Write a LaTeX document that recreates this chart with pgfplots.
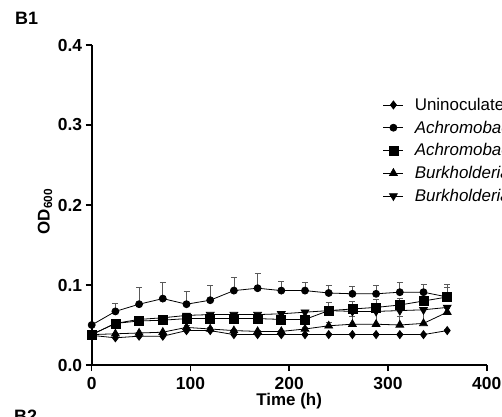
\documentclass[border=0pt]{standalone}
\usepackage{pgfplots}
\pgfplotsset{compat=1.18}
\usepackage{fontspec}
\setmainfont{Liberation Sans}

\pgfplotsset{
  odline/.style={black, line width=0.8pt, mark options={solid, fill=black},
    error bars/y dir=plus, error bars/y explicit,
    error bars/error bar style={black!65, line width=0.8pt},
    error bars/error mark options={black!65, line width=0.8pt, mark size=3bp, rotate=90}},
}

\begin{document}
\begin{tikzpicture}
\useasboundingbox (0,0) rectangle (502bp,417bp);
\clip (0,0) rectangle (502bp,417bp);
\node[anchor=north west, inner sep=0pt, font=\bfseries\fontsize{18}{20}\selectfont] at (15bp,405bp) {B1};
\node[anchor=north west, inner sep=0pt, font=\bfseries\fontsize{18}{20}\selectfont] at (14bp,7bp) {B2};
\begin{axis}[
  at={(91.7bp,52bp)}, anchor=south west,
  scale only axis, width=395bp, height=320bp,
  xmin=0, xmax=400, ymin=0, ymax=0.4,
  axis lines=left, axis line style={-, line width=2.2pt},
  tick align=outside, major tick length=6bp,
  tick style={black, line width=1.6pt},
  xtick={0,100,200,300,400}, xticklabels={0,100,200,300,400},
  ytick={0,0.1,0.2,0.3,0.4}, yticklabels={0.0,0.1,0.2,0.3,0.4},
  ticklabel style={font=\bfseries\fontsize{17.5}{17.5}\selectfont},
  xticklabel style={yshift=-3bp},
  xlabel={Time (h)}, ylabel={OD\textsubscript{600}},
  label style={font=\bfseries\fontsize{17}{19}\selectfont},
  xlabel style={at={(axis description cs:0.5,-0.114)}, anchor=center},
  ylabel style={at={(axis description cs:-0.118,0.48)}, anchor=center, rotate=0},
  clip=false,
  legend cell align=left,
  legend style={at={(axis description cs:0.737,0.841)}, anchor=north west,
    draw=none, fill=none, inner sep=0pt, row sep=5bp, column sep=9bp,
    font=\fontsize{17}{18}\selectfont},
  legend image code/.code={\draw[#1, mark repeat=2, mark phase=2]
    plot coordinates {(0bp,0bp) (10bp,0bp) (20bp,0bp)};},
]
\addplot[odline, mark=diamond*, mark size=4bp] coordinates {
  (0,0.037) +- (0,0.001) (24,0.034) +- (0,0.001) (48,0.036) +- (0,0.001) (72,0.036) +- (0,0.001)
  (96,0.043) +- (0,0.002) (120,0.043) +- (0,0.002) (144,0.038) +- (0,0.001) (168,0.038) +- (0,0.001)
  (192,0.038) +- (0,0.001) (216,0.038) +- (0,0.001) (240,0.038) +- (0,0.001) (264,0.038) +- (0,0.001)
  (288,0.038) +- (0,0.001) (312,0.038) +- (0,0.001) (336,0.038) +- (0,0.001) (360,0.043) +- (0,0.001)};
\addlegendentry{Uninoculated}
\addplot[odline, mark=*, mark size=3.5bp] coordinates {
  (0,0.050) +- (0,0.002) (24,0.067) +- (0,0.010) (48,0.076) +- (0,0.021) (72,0.083) +- (0,0.020)
  (96,0.076) +- (0,0.016) (120,0.081) +- (0,0.018) (144,0.093) +- (0,0.017) (168,0.096) +- (0,0.018)
  (192,0.093) +- (0,0.011) (216,0.093) +- (0,0.010) (240,0.090) +- (0,0.010) (264,0.089) +- (0,0.009)
  (288,0.089) +- (0,0.010) (312,0.091) +- (0,0.012) (336,0.091) +- (0,0.010) (360,0.085) +- (0,0.016)};
\addlegendentry{\textit{Achromobacter} sp. 1}
\addplot[odline, mark=square*, mark size=4.5bp] coordinates {
  (0,0.038) +- (0,0.001) (24,0.052) +- (0,0.002) (48,0.055) +- (0,0.002) (72,0.056) +- (0,0.002)
  (96,0.058) +- (0,0.002) (120,0.058) +- (0,0.002) (144,0.058) +- (0,0.002) (168,0.058) +- (0,0.002)
  (192,0.057) +- (0,0.002) (216,0.057) +- (0,0.002) (240,0.068) +- (0,0.010) (264,0.070) +- (0,0.010)
  (288,0.072) +- (0,0.010) (312,0.075) +- (0,0.008) (336,0.080) +- (0,0.006) (360,0.085) +- (0,0.012)};
\addlegendentry{\textit{Achromobacter} sp. 2}
\addplot[odline, mark=triangle*, mark size=4.5bp] coordinates {
  (0,0.038) +- (0,0.001) (24,0.039) +- (0,0.001) (48,0.040) +- (0,0.001) (72,0.041) +- (0,0.001)
  (96,0.047) +- (0,0.002) (120,0.045) +- (0,0.002) (144,0.043) +- (0,0.001) (168,0.042) +- (0,0.001)
  (192,0.042) +- (0,0.001) (216,0.045) +- (0,0.002) (240,0.049) +- (0,0.004) (264,0.051) +- (0,0.010)
  (288,0.051) +- (0,0.020) (312,0.050) +- (0,0.011) (336,0.052) +- (0,0.020) (360,0.066) +- (0,0.005)};
\addlegendentry{\textit{Burkholderia} sp. 1}
\addplot[odline, mark=triangle*, mark size=4.5bp, mark options={rotate=180}] coordinates {
  (0,0.038) +- (0,0.001) (24,0.052) +- (0,0.002) (48,0.057) +- (0,0.002) (72,0.059) +- (0,0.002)
  (96,0.062) +- (0,0.002) (120,0.063) +- (0,0.002) (144,0.063) +- (0,0.002) (168,0.063) +- (0,0.002)
  (192,0.064) +- (0,0.002) (216,0.066) +- (0,0.002) (240,0.068) +- (0,0.004) (264,0.067) +- (0,0.003)
  (288,0.067) +- (0,0.003) (312,0.068) +- (0,0.003) (336,0.069) +- (0,0.003) (360,0.072) +- (0,0.003)};
\addlegendentry{\textit{Burkholderia} sp. 2}
\end{axis}
\end{tikzpicture}
\end{document}
